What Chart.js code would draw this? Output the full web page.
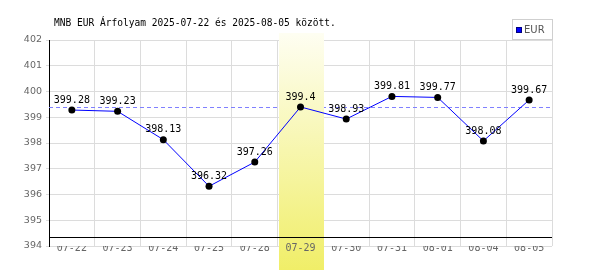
<!DOCTYPE html>
<html>
<head>
<meta charset="utf-8">
<script src="https://cdn.jsdelivr.net/npm/chart.js@4/dist/chart.umd.min.js"></script>
<style>
    html, body { margin: 0; padding: 0; background: #fff; }
    #wrap { width: 600px; height: 270px; }
</style>
</head>
<body>
<div id="wrap"><canvas id="chart" width="600" height="270"></canvas></div>
<script>
const titleText = 'MNB EUR Árfolyam 2025-07-22 és 2025-08-05 között.';
const seriesName = 'EUR';
const days = ['07-22', '07-23', '07-24', '07-25', '07-28', '07-29', '07-30', '07-31', '08-01', '08-04', '08-05'];
const rates = [399.28, 399.23, 398.13, 396.32, 397.26, 399.4, 398.93, 399.81, 399.77, 398.08, 399.67];
const yTicks = [394, 395, 396, 397, 398, 399, 400, 401, 402];
const highlightIndex = 5;

const mono = '"DejaVu Sans Mono", monospace';

// highlighted day band, reference line, value labels, title and legend
const decorations = {
    id: 'decorations',
    beforeDatasetsDraw(chart) {
        const {ctx, chartArea, scales: {x, y}} = chart;

        // dashed line at the highlighted day's rate
        const refY = Math.round(y.getPixelForValue(rates[highlightIndex])) + 0.5;
        ctx.save();
        ctx.strokeStyle = '#8080ff';
        ctx.lineWidth = 1;
        ctx.setLineDash([4, 3]);
        ctx.beginPath();
        ctx.moveTo(chartArea.left, refY);
        ctx.lineTo(chartArea.right - 2, refY);
        ctx.stroke();
        ctx.restore();

        // band
        const half = (x.getPixelForValue(1) - x.getPixelForValue(0)) / 2;
        const cx = x.getPixelForValue(highlightIndex);
        const top = chartArea.top - 7;
        const bottom = chart.height;
        const grad = ctx.createLinearGradient(0, top, 0, bottom);
        grad.addColorStop(0, '#fefef2');
        grad.addColorStop(1, '#f0ee68');
        ctx.save();
        ctx.fillStyle = grad;
        ctx.fillRect(Math.round(cx - half) + 1, top, Math.round(2 * half) - 1, bottom - top);
        ctx.restore();

        // put the highlighted day's tick label back on top of the band
        const item = x.getLabelItems()[highlightIndex];
        if (item) {
            const o = item.options;
            ctx.save();
            ctx.font = item.font.string;
            ctx.fillStyle = o.color;
            ctx.textAlign = o.textAlign;
            ctx.textBaseline = o.textBaseline;
            ctx.fillText(item.label, o.translation[0], o.translation[1] + item.textOffset);
            ctx.restore();
        }
    },
    afterDatasetsDraw(chart) {
        const {ctx, chartArea} = chart;
        const meta = chart.getDatasetMeta(0);

        // value labels
        ctx.save();
        ctx.font = '10px ' + mono;
        ctx.fillStyle = '#000';
        ctx.textAlign = 'center';
        ctx.textBaseline = 'middle';
        meta.data.forEach((pt, i) => {
            ctx.fillText(String(rates[i]), pt.x, pt.y - 10);
        });
        ctx.restore();

        // x axis line (sits a little above the lowest grid line)
        const axisY = chartArea.bottom - 8.5;
        ctx.save();
        ctx.strokeStyle = '#000';
        ctx.lineWidth = 1;
        ctx.beginPath();
        ctx.moveTo(chartArea.left, axisY);
        ctx.lineTo(chartArea.right, axisY);
        ctx.stroke();
        ctx.restore();
    },
    afterDraw(chart) {
        const {ctx, chartArea} = chart;

        // title (slightly narrowed monospace)
        ctx.save();
        ctx.font = '10px ' + mono;
        ctx.fillStyle = '#000';
        ctx.textBaseline = 'alphabetic';
        ctx.translate(54, 26);
        ctx.scale(0.955, 1);
        ctx.fillText(titleText, 0, 0);
        ctx.restore();

        // legend box
        const lx = chartArea.right - 40;
        ctx.save();
        ctx.strokeStyle = '#cfcfcf';
        ctx.lineWidth = 1;
        ctx.strokeRect(lx + 0.5, 19.5, 40, 20);
        ctx.fillStyle = '#0000ff';
        ctx.fillRect(lx + 4, 27, 6, 6);
        ctx.strokeStyle = '#000080';
        ctx.strokeRect(lx + 4.5, 27.5, 5, 5);
        ctx.font = '10px "DejaVu Sans", sans-serif';
        ctx.fillStyle = '#555';
        ctx.textBaseline = 'middle';
        ctx.fillText(seriesName, lx + 12, 30.5);
        ctx.restore();
    }
};

const ctx = document.getElementById('chart').getContext('2d');

new Chart(ctx, {
    type: 'line',
    data: {
        labels: days,
        datasets: [{
            label: seriesName,
            data: rates,
            borderColor: '#0000ff',
            borderWidth: 1,
            tension: 0,
            pointRadius: 3.5,
            pointBackgroundColor: '#000',
            pointBorderColor: '#000',
            pointBorderWidth: 0
        }]
    },
    options: {
        responsive: false,
        animation: false,
        layout: {padding: {top: 40, right: 48, left: 0, bottom: 0}},
        plugins: {
            legend: {display: false},
            title: {display: false},
            tooltip: {enabled: false}
        },
        scales: {
            x: {
                offset: true,
                grid: {offset: true, color: '#dcdcdc', drawTicks: false},
                border: {display: false},
                ticks: {
                    color: '#666',
                    font: {family: mono, size: 10},
                    padding: -4,
                    maxRotation: 0,
                    autoSkip: false
                },
                afterFit(scale) { scale.height = 24; }
            },
            y: {
                min: 394,
                max: 402,
                afterBuildTicks(scale) {
                    scale.ticks = yTicks.map(v => ({value: v}));
                },
                grid: {color: '#dcdcdc', tickLength: 3},
                border: {color: '#000', width: 1},
                ticks: {
                    color: '#666',
                    font: {family: '"DejaVu Sans", sans-serif', size: 9.5},
                    padding: 4
                },
                afterFit(scale) { scale.width = 49; }
            }
        }
    },
    plugins: [decorations]
});
</script>
</body>
</html>
